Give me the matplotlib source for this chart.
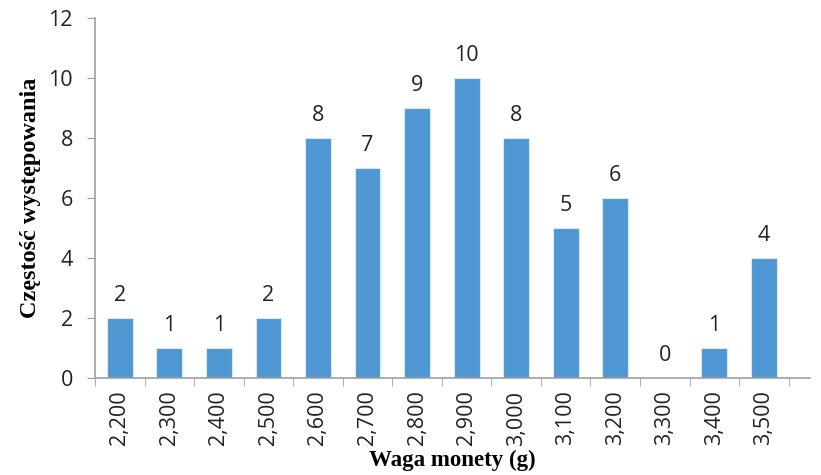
import numpy as np
import matplotlib.pyplot as plt

# coin weights (g) and how many times each occurred
weights = ["2,200", "2,300", "2,400", "2,500", "2,600", "2,700", "2,800",
           "2,900", "3,000", "3,100", "3,200", "3,300", "3,400", "3,500"]
counts = [2, 1, 1, 2, 8, 7, 9, 10, 8, 5, 6, 0, 1, 4]

fig = plt.figure(figsize=(8.21, 4.75), dpi=100)
ax = fig.add_axes([95 / 821, 1 - 378 / 475, (810 - 95) / 821, 360 / 475])

x = np.arange(len(weights))
bars = ax.bar(x, counts, width=0.52, color="#4F97D3", edgecolor="#D9EAF7", linewidth=0.8)

for xi, c in zip(x, counts):
    ax.annotate(str(c), (xi, c), xytext=(0, 16), textcoords="offset points",
                ha="center", va="center", fontsize=15.5, family="Open Sans", color="#222222")

ax.set_ylim(0, 12)
ax.set_xlim(-0.5, len(weights) - 0.5 + 0.43)
ax.set_yticks(range(0, 13, 2))
ax.set_xticks(x)
ax.set_xticklabels(weights, rotation=90, fontsize=15.5, family="Open Sans", color="#222222")
ax.set_xticks(np.arange(-0.5, len(weights)), minor=True)
ax.tick_params(axis="x", which="major", length=0, pad=9)
ax.tick_params(axis="x", which="minor", length=6, color="#A0A0A0", direction="out")
ax.tick_params(axis="y", length=6, color="#A0A0A0", labelsize=15.5, pad=10, labelcolor="#222222")
for lbl in ax.get_yticklabels():
    lbl.set_family("Open Sans")

for s in ["top", "right"]:
    ax.spines[s].set_visible(False)
for s in ["left", "bottom"]:
    ax.spines[s].set_color("#A0A0A0")
    ax.spines[s].set_linewidth(1.2)

ax.set_ylabel("Częstość występowania", fontsize=17.5, fontweight="bold",
              family="Liberation Serif", labelpad=5)
ax.set_xlabel("Waga monety (g)", fontsize=16.5, fontweight="bold",
              family="Liberation Serif", labelpad=3)

fig.savefig("out.png", dpi=100)
